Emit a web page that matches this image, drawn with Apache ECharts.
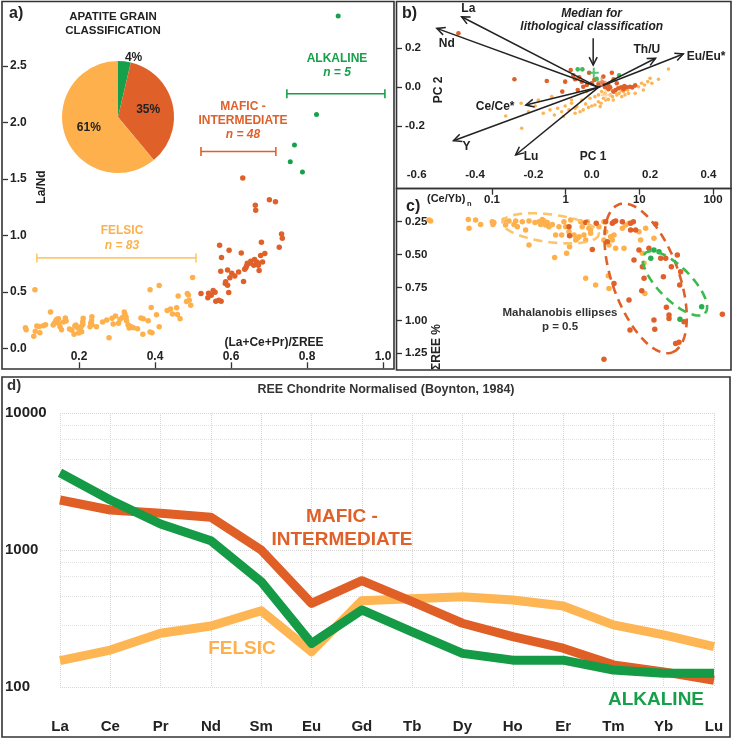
<!DOCTYPE html>
<html><head><meta charset="utf-8">
<script src="https://cdn.jsdelivr.net/npm/echarts@6/dist/echarts.min.js"></script>
<style>html,body{margin:0;padding:0;background:#fff}#c{width:732px;height:739px}</style>
</head><body><div id="c"></div>
<script>
// ---------- colours ----------
const FEL = '#FDB04C', MAF = '#E0602A', ALK = '#17A04B', INK = '#222';
const FF = '"Liberation Sans", Arial, sans-serif';

// ---------- panel a : La/Nd vs (La+Ce+Pr)/SumREE ----------
const felsicA = [[0.084,0.518],[0.059,0.182],[0.061,0.165],[0.081,0.106],[0.085,0.150],[0.089,0.197],[0.095,0.194],[0.097,0.138],[0.106,0.200],[0.112,0.209],[0.125,0.321],[0.135,0.221],[0.139,0.244],[0.142,0.256],[0.146,0.262],[0.146,0.221],[0.150,0.191],[0.154,0.165],[0.164,0.268],[0.166,0.241],[0.175,0.171],[0.187,0.124],[0.189,0.197],[0.192,0.206],[0.196,0.182],[0.199,0.135],[0.203,0.153],[0.203,0.168],[0.206,0.194],[0.210,0.235],[0.211,0.265],[0.210,0.212],[0.229,0.191],[0.231,0.221],[0.233,0.244],[0.234,0.279],[0.234,0.209],[0.262,0.232],[0.273,0.250],[0.279,0.094],[0.287,0.265],[0.290,0.215],[0.296,0.285],[0.308,0.256],[0.315,0.274],[0.319,0.321],[0.321,0.303],[0.324,0.274],[0.325,0.244],[0.329,0.209],[0.332,0.179],[0.336,0.194],[0.343,0.182],[0.354,0.174],[0.363,0.268],[0.369,0.262],[0.368,0.124],[0.382,0.244],[0.387,0.518],[0.390,0.362],[0.387,0.144],[0.392,0.138],[0.411,0.556],[0.411,0.191],[0.432,0.335],[0.441,0.347],[0.446,0.303],[0.457,0.359],[0.459,0.300],[0.461,0.462],[0.466,0.262],[0.485,0.485],[0.488,0.471],[0.490,0.426],[0.494,0.382],[0.499,0.626],[0.483,0.415],[0.132,0.206],[0.159,0.232],[0.181,0.159],[0.207,0.147],[0.246,0.191],[0.304,0.221],[0.404,0.297]];
const maficA = [[0.631,1.506],[0.701,1.315],[0.717,1.297],[0.664,1.265],[0.665,1.221],[0.733,1.012],[0.735,0.974],[0.727,0.894],[0.680,0.938],[0.570,0.912],[0.595,0.868],[0.575,0.803],[0.627,0.844],[0.689,0.838],[0.678,0.821],[0.662,0.786],[0.668,0.764],[0.683,0.764],[0.643,0.753],[0.649,0.753],[0.660,0.735],[0.672,0.735],[0.639,0.712],[0.636,0.700],[0.674,0.688],[0.573,0.682],[0.591,0.694],[0.602,0.665],[0.620,0.676],[0.597,0.624],[0.633,0.591],[0.585,0.574],[0.591,0.559],[0.594,0.494],[0.521,0.485],[0.541,0.488],[0.553,0.512],[0.558,0.497],[0.539,0.447],[0.560,0.417],[0.568,0.426],[0.574,0.417],[0.652,0.770],[0.641,0.728],[0.610,0.640],[0.586,0.590],[0.672,0.752],[0.548,0.470]];
const alkA = [[0.882,2.94],[0.825,2.07],[0.767,1.80],[0.756,1.65],[0.788,1.56]];
const rangeFelsic = [[0.089,0.80],[0.508,0.80]];
const rangeMafic = [[0.521,1.741],[0.718,1.741]];
const rangeAlk = [[0.747,2.253],[1.005,2.253]];
const pieNames = ['Alkaline','Mafic - Intermediate','Felsic'];
const pieCounts = [5,48,83];

// ---------- panel b : PCA biplot ----------
const felsicB = [[0.263,0.094],[0.229,0.041],[0.200,0.046],[0.192,0.029],[0.181,0.012],[0.171,0.021],[0.160,0.003],[0.149,0.007],[0.139,-0.005],[0.131,0.000],[0.123,-0.014],[0.114,-0.010],[0.109,-0.022],[0.101,-0.017],[0.094,-0.031],[0.086,-0.039],[0.080,-0.027],[0.071,-0.048],[0.063,-0.039],[0.057,-0.062],[0.048,-0.065],[0.040,-0.056],[0.032,-0.082],[0.023,-0.074],[0.011,-0.091],[0.000,-0.096],[-0.011,-0.103],[-0.021,-0.085],[-0.029,-0.116],[-0.040,-0.125],[-0.051,-0.099],[-0.057,-0.133],[-0.069,-0.065],[-0.078,-0.116],[-0.091,-0.096],[-0.103,-0.125],[-0.117,-0.108],[-0.128,-0.142],[-0.143,-0.116],[-0.166,-0.133],[-0.183,-0.065],[-0.194,-0.096],[-0.217,-0.125],[-0.240,-0.210],[-0.242,-0.082],[-0.295,-0.147],[-0.137,-0.048],[-0.034,-0.065],[-0.017,-0.022],[0.023,-0.039],[0.046,-0.031],[0.126,-0.031],[0.149,-0.031],[0.103,-0.048],[0.069,-0.014],[0.206,0.021],[0.177,-0.014],[-0.069,-0.082],[0.011,-0.048],[-0.006,-0.056],[0.034,-0.022],[0.074,-0.065],[0.114,-0.039],[-0.057,-0.108],[-0.097,-0.150],[0.029,-0.099]];
const maficB = [[-0.457,0.277],[-0.265,0.041],[-0.154,0.032],[-0.072,0.089],[-0.091,0.029],[-0.063,0.062],[-0.057,0.041],[-0.043,0.051],[-0.034,0.029],[-0.009,0.075],[0.009,0.038],[0.069,0.075],[0.075,0.041],[0.057,0.012],[-0.101,-0.022],[-0.029,0.003],[0.023,0.017],[0.046,0.000],[0.057,-0.010],[0.082,-0.014],[0.091,-0.005],[0.101,0.000],[0.109,-0.010],[0.120,0.000],[0.131,0.003],[0.139,0.000],[0.063,0.000],[0.074,-0.022],[0.037,0.024],[0.040,0.055],[0.000,0.021],[-0.048,-0.014],[-0.017,0.012],[0.086,0.021],[0.149,0.010],[0.112,0.007]];
const alkB = [[-0.048,0.092],[-0.032,0.092],[0.017,0.043],[0.094,0.062]];
const medianFelsic = [0.048,-0.039], medianMafic = [0.034,0.029], medianAlk = [0.007,0.075];
const loadOrigin = [0.023, 0.0];
const loadNames = ['La','Nd','Th/U','Eu/Eu*','Ce/Ce*','Y','Lu'];
const loadTips = [[-0.446,0.362],[-0.531,0.302],[0.219,0.149],[0.314,0.171],[-0.226,-0.091],[-0.474,-0.274],[-0.261,-0.347]];
const loadLabels = [[-0.423,0.405],[-0.497,0.226],[0.189,0.195],[0.392,0.157],[-0.331,-0.099],[-0.429,-0.304],[-0.208,-0.356]];
const medianArrow = [[0.005,0.251],[0.005,0.114]];

// ---------- panel c : SumREE% vs (Ce/Yb)n ----------
const felsicC = [[0.0140,0.238],[0.0147,0.246],[0.0477,0.233],[0.0488,0.301],[0.060,0.238],[0.0702,0.271],[0.101,0.251],[0.103,0.271],[0.106,0.256],[0.146,0.238],[0.153,0.276],[0.170,0.246],[0.199,0.271],[0.210,0.246],[0.221,0.289],[0.258,0.251],[0.286,0.314],[0.318,0.246],[0.318,0.428],[0.383,0.256],[0.435,0.251],[0.458,0.271],[0.482,0.233],[0.508,0.246],[0.535,0.276],[0.564,0.256],[0.594,0.289],[0.659,0.271],[0.709,0.522],[0.732,0.352],[0.812,0.289],[0.883,0.352],[0.949,0.251],[1.0,0.289],[1.03,0.491],[1.11,0.327],[1.13,0.441],[1.17,0.238],[1.30,0.352],[1.37,0.390],[1.44,0.377],[1.52,0.365],[1.60,0.251],[1.68,0.289],[1.77,0.352],[1.87,0.390],[1.87,0.681],[1.97,0.251],[2.07,0.301],[2.18,0.314],[2.55,0.732],[2.83,0.289],[3.31,0.251],[3.49,0.327],[3.87,0.428],[4.08,0.365],[4.30,0.390],[4.53,0.352],[4.77,0.453],[3.79,0.661],[3.87,0.757],[5.88,0.301],[6.19,0.453],[6.52,0.276],[7.24,0.263],[9.89,0.327],[10.4,0.390],[11.0,0.491],[11.6,0.567],[11.9,0.795],[12.2,0.301],[15.8,0.377],[3.31,0.390],[2.18,0.339]];
const maficC = [[1.11,0.289],[1.13,0.357],[1.87,0.256],[2.30,0.461],[3.49,0.251],[4.53,0.251],[5.88,0.251],[7.62,0.263],[7.62,0.314],[8.91,0.314],[16.7,0.268],[8.47,0.542],[9.89,0.466],[19.5,0.529],[22.8,0.529],[27.2,0.592],[11.6,0.681],[21.2,0.668],[35.3,0.732],[10.8,0.775],[7.24,0.846],[23.3,0.901],[25.3,0.959],[25.3,0.985],[15.8,0.997],[16.2,1.068],[7.47,1.073],[31.1,1.175],[34.5,1.167],[40.4,1.010],[134,0.954],[3.31,1.296],[4.53,0.719],[36.4,0.630],[32.8,0.504],[13.5,0.453],[4.30,0.263],[4.77,0.246],[3.68,0.403],[11.0,0.592],[8.3,0.251],[2.6,0.263]];
const alkC = [[15.8,0.466],[14.3,0.529],[35.6,0.992],[70.2,0.896],[18.5,0.478]];
// Mahalanobis ellipses (centre, two conjugate semi-axes) in (log10 x, y) space
const ellFelsic = {c:[-0.204,0.301], u:[0.656,0.043], v:[0.0,0.106]};
const ellMafic  = {c:[1.086,0.681],  u:[0.362,0.562], v:[0.425,-0.086]};
const ellAlk    = {c:[1.484,0.719],  u:[0.407,0.228], v:[0.158,-0.089]};

// ---------- panel d : REE chondrite normalised ----------
const ree = ['La','Ce','Pr','Nd','Sm','Eu','Gd','Tb','Dy','Ho','Er','Tm','Yb','Lu'];
const felsicD = [156,186,247,279,360,181,427,441,456,431,390,284,240,197];
const maficD  = [2317,1959,1853,1733,1000,408,597,420,292,233,192,145,129,112];
const alkD    = [3666,2317,1549,1169,587,208,365,253,176,157,157,133,126,126];

// ---------- helpers ----------
function ellipsePts(e){
  const out=[];
  for(let i=0;i<=96;i++){
    const t=i/96*2*Math.PI;
    const lx=e.c[0]+e.u[0]*Math.cos(t)+e.v[0]*Math.sin(t);
    const y=e.c[1]+e.u[1]*Math.cos(t)+e.v[1]*Math.sin(t);
    out.push([Math.pow(10,lx),y]);
  }
  return out;
}
function T(text,x,y,font,fill,align,rot){
  align=align||'center';
  return {type:'text',x:x,y:y,rotation:rot||0,z:50,
    style:{text:text,font:font,fill:fill||INK,align:align,textAlign:align,verticalAlign:'middle',textVerticalAlign:'middle'}};
}
function R(x,y,w,h){
  return {type:'rect',z:60,shape:{x:x,y:y,width:w,height:h},style:{fill:'none',stroke:'#333',lineWidth:1.6}};
}
const B = (s)=>'bold '+s+'px '+FF;
const BI = (s)=>'italic bold '+s+'px '+FF;
const PLUS = 'path://M4,0H6V4H10V6H6V10H4V6H0V4H4Z';

const labStyle = (s)=>({color:INK,fontWeight:'bold',fontSize:s,fontFamily:'Liberation Sans'});
const noLine = {show:false,onZero:false};

const chart = echarts.init(document.getElementById('c'),null,{renderer:'canvas'});
chart.setOption({
  animation:false,
  backgroundColor:'#fff',
  grid:[
    {left:3, top:9.3, width:380, height:339},          // a
    {left:416.7, top:9.3, width:291.7, height:156},     // b
    {left:418.3, top:188.7, width:294.7, height:164.6}, // c
    {left:60, top:413, width:654, height:274}           // d
  ],
  xAxis:[
    {gridIndex:0,type:'value',min:0,max:1,interval:0.2,offset:20,
      axisLine:noLine,axisTick:{show:true,inside:true,length:6,lineStyle:{color:'#333',width:1.3}},
      axisLabel:{inside:true,margin:6,showMinLabel:false,formatter:v=>v.toFixed(1),...labStyle(12)},splitLine:{show:false}},
    {gridIndex:1,type:'value',min:-0.6,max:0.4,interval:0.2,
      axisLine:noLine,axisTick:{show:false},
      axisLabel:{margin:4,formatter:v=>v.toFixed(1),...labStyle(11.5)},splitLine:{show:false}},
    {gridIndex:2,type:'log',logBase:10,min:0.01,max:100,position:'top',
      axisLine:noLine,axisTick:{show:true,inside:true,length:6,lineStyle:{color:'#333',width:1.3}},
      axisLabel:{inside:true,margin:5,showMinLabel:false,formatter:v=>String(+(+v).toPrecision(3)),...labStyle(11.5)},splitLine:{show:false},minorTick:{show:false}},
    {gridIndex:3,type:'category',data:ree,boundaryGap:false,offset:29,
      axisLine:noLine,axisTick:{show:false},
      axisLabel:{margin:3,...labStyle(15)},
      splitLine:{show:true,lineStyle:{color:'#d6d6d6',type:'dotted',width:1}}}
  ],
  yAxis:[
    {gridIndex:0,type:'value',min:0,max:3,interval:0.5,
      axisLine:noLine,axisTick:{show:true,inside:true,length:5,lineStyle:{color:'#333',width:1.3}},
      axisLabel:{inside:true,margin:7,showMaxLabel:false,formatter:v=>v.toFixed(1),...labStyle(12)},splitLine:{show:false}},
    {gridIndex:1,type:'value',min:-0.4,max:0.4,interval:0.2,offset:19.7,
      axisLine:noLine,axisTick:{show:true,inside:true,length:5,lineStyle:{color:'#333',width:1.3}},
      axisLabel:{inside:true,margin:8,showMinLabel:false,showMaxLabel:false,formatter:v=>v.toFixed(1),...labStyle(11.5)},splitLine:{show:false}},
    {gridIndex:2,type:'value',inverse:true,min:0,max:1.25,interval:0.25,offset:21.3,
      axisLine:noLine,axisTick:{show:true,inside:true,length:5,lineStyle:{color:'#333',width:1.3}},
      axisLabel:{inside:true,margin:8,showMinLabel:false,formatter:v=>v.toFixed(2),...labStyle(11.5)},splitLine:{show:false}},
    {gridIndex:3,type:'log',logBase:10,min:100,max:10000,
      axisLine:noLine,axisTick:{show:false},
      axisLabel:{align:'left',margin:55,formatter:v=>String(Math.round(+v)),...labStyle(15)},
      splitLine:{show:true,lineStyle:{color:'#d6d6d6',type:'dotted'}},
      minorTick:{show:false,splitNumber:5},
      minorSplitLine:{show:true,lineStyle:{color:'#e2e2e2',type:'dotted'}}}
  ],
  series:[
    // ---- panel a ----
    {type:'pie',center:[118,117],radius:56,startAngle:90,clockwise:true,silent:true,
      data:pieNames.map((n,i)=>({name:n,value:pieCounts[i],itemStyle:{color:[ALK,MAF,FEL][i]},
        label: i===0 ? {position:'outside',distanceToLabelLine:0} : {position:'inside'},
        labelLine: {show:false,length:4,length2:0}})),
      label:{formatter:p=>Math.round(p.percent)+'%',color:INK,fontWeight:'bold',fontSize:12,fontFamily:'Liberation Sans'}},
    {type:'scatter',xAxisIndex:0,yAxisIndex:0,data:felsicA,symbolSize:5.5,itemStyle:{color:FEL,opacity:1},clip:false},
    {type:'scatter',xAxisIndex:0,yAxisIndex:0,data:maficA,symbolSize:5.5,itemStyle:{color:MAF,opacity:1},clip:false},
    {type:'scatter',xAxisIndex:0,yAxisIndex:0,data:alkA,symbolSize:5,itemStyle:{color:ALK,opacity:1},clip:false},
    ...[[rangeFelsic,'#FDC86E'],[rangeMafic,MAF],[rangeAlk,ALK]].map(([d,c])=>({
      type:'line',xAxisIndex:0,yAxisIndex:0,data:d,symbol:'rect',symbolSize:[1.6,9],showSymbol:true,clip:false,
      lineStyle:{color:c,width:1.6},itemStyle:{color:c}})),

    // ---- panel b ----
    {type:'scatter',xAxisIndex:1,yAxisIndex:1,data:felsicB,symbolSize:3.6,itemStyle:{color:FEL,opacity:0.95},clip:false},
    {type:'scatter',xAxisIndex:1,yAxisIndex:1,data:maficB,symbolSize:4.6,itemStyle:{color:MAF,opacity:1},clip:false},
    {type:'scatter',xAxisIndex:1,yAxisIndex:1,data:alkB,symbolSize:4.6,itemStyle:{color:'#3DBA5C',opacity:1},clip:false},
    {type:'custom',xAxisIndex:1,yAxisIndex:1,clip:false,z:5,
      data:loadTips.map((p,i)=>[p[0],p[1],loadLabels[i][0],loadLabels[i][1],i]),
      renderItem:function(params,api){
        const o=api.coord(loadOrigin), t=api.coord([api.value(0),api.value(1)]);
        const lp=api.coord([api.value(2),api.value(3)]);
        const a=Math.atan2(t[1]-o[1],t[0]-o[0]), h=9, w=0.45;
        const p1=[t[0]-h*Math.cos(a-w),t[1]-h*Math.sin(a-w)], p2=[t[0]-h*Math.cos(a+w),t[1]-h*Math.sin(a+w)];
        return {type:'group',children:[
          {type:'line',shape:{x1:o[0],y1:o[1],x2:t[0],y2:t[1]},style:{stroke:INK,lineWidth:1.5}},
          {type:'polyline',shape:{points:[p1,t,p2]},style:{stroke:INK,lineWidth:1.5,fill:null}},
          {type:'text',x:lp[0],y:lp[1],style:{text:loadNames[api.value(4)],font:B(12),fill:INK,align:'center',verticalAlign:'middle',textAlign:'center',textVerticalAlign:'middle'}}
        ]};
      }},
    {type:'custom',xAxisIndex:1,yAxisIndex:1,clip:false,z:5,data:[[medianArrow[0][0],medianArrow[0][1],medianArrow[1][0],medianArrow[1][1]]],
      renderItem:function(params,api){
        const s=api.coord([api.value(0),api.value(1)]), t=api.coord([api.value(2),api.value(3)]);
        return {type:'group',children:[
          {type:'line',shape:{x1:s[0],y1:s[1],x2:t[0],y2:t[1]},style:{stroke:INK,lineWidth:1.5}},
          {type:'polyline',shape:{points:[[t[0]-4,t[1]-8],t,[t[0]+4,t[1]-8]]},style:{stroke:INK,lineWidth:1.5,fill:null}}
        ]};
      }},
    {type:'scatter',xAxisIndex:1,yAxisIndex:1,z:6,symbol:PLUS,symbolSize:10,clip:false,
      data:[{value:medianFelsic,itemStyle:{color:'#FCD3A0'}},{value:medianMafic,itemStyle:{color:'#EC8A60'}},{value:medianAlk,itemStyle:{color:'#2DB552'}}]},

    // ---- panel c ----
    {type:'scatter',xAxisIndex:2,yAxisIndex:2,data:felsicC,symbolSize:5.5,itemStyle:{color:FEL,opacity:1},clip:false},
    {type:'scatter',xAxisIndex:2,yAxisIndex:2,data:maficC,symbolSize:5.5,itemStyle:{color:MAF,opacity:1},clip:false},
    {type:'scatter',xAxisIndex:2,yAxisIndex:2,data:alkC,symbolSize:5.5,itemStyle:{color:'#27AE50',opacity:1},clip:false},
    ...[[ellFelsic,'#FDC46E'],[ellMafic,MAF],[ellAlk,'#3DBA4E']].map(([e,c])=>({
      type:'line',xAxisIndex:2,yAxisIndex:2,data:ellipsePts(e),showSymbol:false,symbol:'none',clip:false,smooth:false,z:4,
      lineStyle:{color:c,width:2.6,type:[9,6]}})),

    // ---- panel d ----
    {type:'line',xAxisIndex:3,yAxisIndex:3,data:felsicD,symbol:'none',lineStyle:{color:'#FDB653',width:9,join:'round',cap:'butt'}},
    {type:'line',xAxisIndex:3,yAxisIndex:3,data:maficD,symbol:'none',lineStyle:{color:'#DF5F27',width:9,join:'round',cap:'butt'}},
    {type:'line',xAxisIndex:3,yAxisIndex:3,data:alkD,symbol:'none',lineStyle:{color:'#159A45',width:9,join:'round',cap:'butt'}}
  ],
  graphic:[
    R(2,1.5,392,367.5), R(396.5,1.5,334.5,187), R(396.5,188.5,334.5,181.5), R(2,377,728,360),
    // panel a
    T('a)',9,14,B(16),INK,'left'),
    T('APATITE GRAIN',113,17,B(11.5)), T('CLASSIFICATION',113,31,B(11.5)),
    T('ALKALINE',337,59,B(12),ALK), T('n = 5',337,73,BI(12),ALK),
    T('MAFIC -',243,107,B(12),MAF), T('INTERMEDIATE',243,121,B(12),MAF), T('n = 48',243,135,BI(12),MAF),
    T('FELSIC',122,231,B(12),FEL), T('n = 83',122,246,BI(12),FEL),
    T('La/Nd',42,187,B(12),INK,'center',Math.PI/2),
    T('(La+Ce+Pr)/ΣREE',274,343,B(12)),
    // panel b
    T('b)',402,14,B(16),INK,'left'),
    T('Median for',591.7,14,BI(12)), T('lithological classification',591.7,27,BI(12)),
    T('PC 2',439,90,B(12),INK,'center',Math.PI/2), T('PC 1',593,157,B(12)),
    // panel c
    T('c)',406,207,B(16),INK,'left'),
    T('(Ce/Yb)',427,199,B(11),INK,'left'), T('n',467,204,B(7.5),INK,'left'),
    T('Mahalanobis ellipses',560,313,B(11.5),'#333'), T('p = 0.5',560,327,B(11.5),'#333'),
    T('ΣREE %',437,347,B(12),INK,'center',Math.PI/2),
    // panel d
    T('d)',7,386,B(15),'#333','left'),
    T('REE Chondrite Normalised (Boynton, 1984)',386,390,B(12.5),'#333'),
    T('MAFIC -',342,517,B(19),MAF), T('INTERMEDIATE',342,540,B(19),MAF),
    T('FELSIC',242,649,B(19),FEL), T('ALKALINE',656,700,B(19),ALK)
  ]
});
</script></body></html>
